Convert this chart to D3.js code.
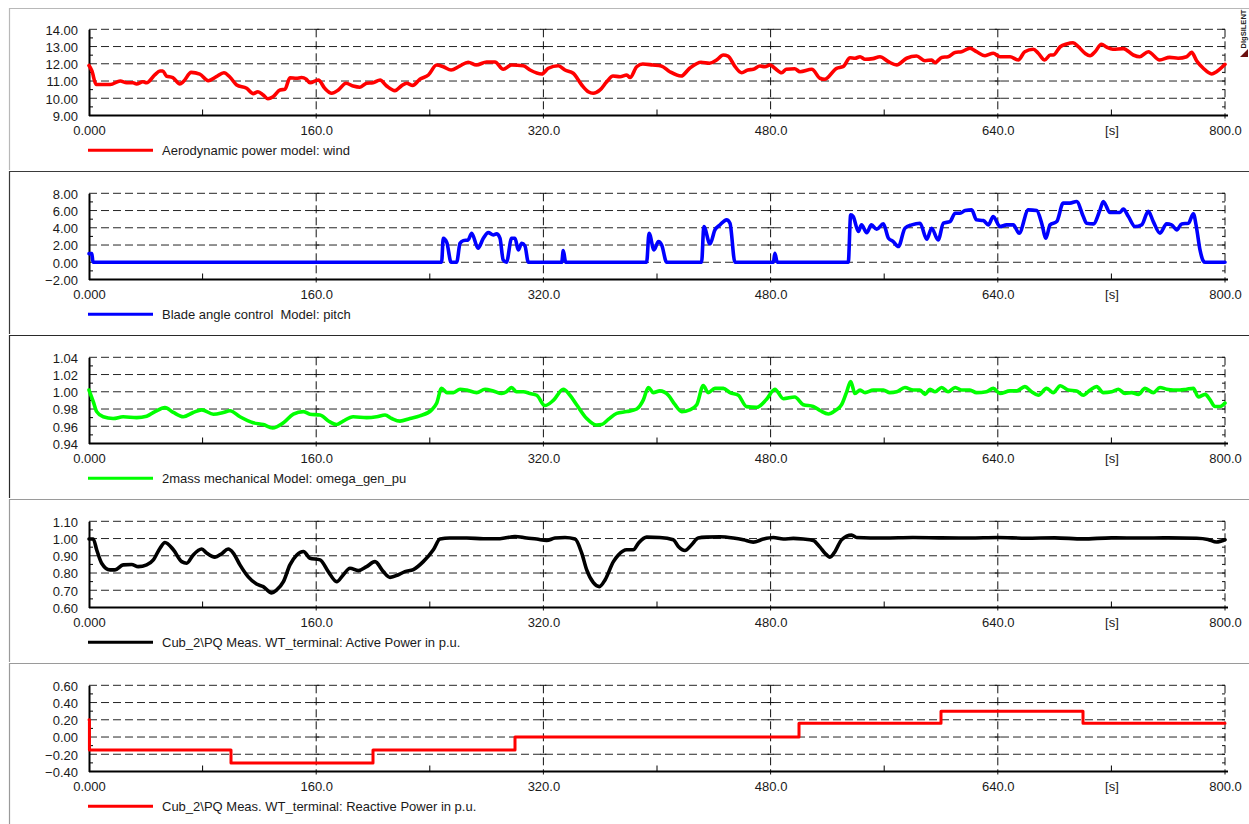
<!DOCTYPE html>
<html>
<head>
<meta charset="utf-8">
<script src="https://cdn.jsdelivr.net/npm/d3@7"></script>
<style>
  html, body { margin: 0; padding: 0; background: #fff; }
  svg { display: block; font-family: "Liberation Sans", Arial, Helvetica, sans-serif; }
</style>
</head>
<body>
<svg id="chart" width="1249" height="824"></svg>
<script>
// ---- time axis -------------------------------------------------------------
const xTickValues = [0, 160, 320, 480, 640, 720, 800];
const xTickLabels = ["0.000", "160.0", "320.0", "480.0", "640.0", "[s]", "800.0"];
const xGridValues = [160, 320, 480, 640, 800];
const xMinorValues = [80, 240, 400, 560, 720];

// ---- wind speed [m/s] ------------------------------------------------------
const windLabel = "Aerodynamic power model: wind";
const windTicks = [9, 10, 11, 12, 13, 14];
const wind = [[0,11.9],[2,11.6],[5,10.8],[15,10.8],[22,11.0],[26.5,10.9],[31,10.9],[33.5,10.83],[38,10.96],[40.6,10.9],[46.3,11.35],[50,11.58],[52,11.58],[54.5,11.29],[59,11.2],[64,10.83],[66.4,10.96],[72,11.5],[78,11.4],[84,11.02],[89.7,11.25],[95,11.48],[99,11.25],[104,10.77],[111,10.58],[115.7,10.27],[119,10.38],[122.7,10.19],[126,9.97],[129.6,10.09],[134.5,10.48],[138,10.52],[141.5,11.19],[146,11.16],[149.7,11.2],[153,11.1],[155.6,10.9],[161.5,11.06],[166,10.58],[170.9,10.29],[175.6,10.48],[181,10.87],[186,10.71],[190.8,10.64],[195.5,10.87],[200,10.9],[205,11.06],[209.6,10.71],[215.5,10.44],[220,10.72],[223.7,10.87],[228,10.75],[233,11.1],[239,11.35],[244.8,11.93],[249.5,11.83],[255,11.64],[261,11.87],[267,12.09],[272.8,11.93],[280,12.1],[285.9,12.1],[291.7,11.68],[297.6,11.93],[305.8,11.89],[310.6,11.64],[318.8,11.41],[323.5,11.74],[330.5,11.89],[335.2,11.64],[341,11.45],[347,10.77],[351.6,10.38],[355,10.29],[359.9,10.48],[364.6,10.96],[369,11.29],[374,11.25],[378.7,11.35],[381,11.2],[385.7,11.83],[390,11.99],[397,11.93],[403,11.87],[409,11.54],[417,11.29],[423,11.74],[431,12.09],[437,12.03],[442,12.22],[446.7,12.51],[450,12.45],[455,11.83],[459.6,11.48],[464,11.64],[467.8,11.68],[472.5,11.87],[476,11.83],[479.6,11.93],[483,11.74],[487.8,11.48],[491,11.68],[497,11.71],[500.7,11.54],[509,11.68],[514.8,11.16],[518,11.1],[526.5,11.74],[531,11.83],[536,12.35],[539.4,12.32],[543,12.41],[546.5,12.26],[552,12.3],[557,12.41],[563,12.12],[568.8,11.93],[575.8,12.32],[582.8,12.45],[588.7,12.18],[593.4,12.22],[595.8,12.06],[600.5,12.37],[605,12.41],[609.9,12.66],[614.5,12.7],[620.4,12.9],[625,12.7],[631,12.47],[636.8,12.61],[641.5,12.41],[648.6,12.41],[654.4,12.22],[659,12.7],[665,12.84],[668.5,12.61],[673,12.22],[677,12.51],[679,12.51],[684,12.99],[688.5,13.15],[693,13.22],[696.7,12.99],[701.4,12.61],[705,12.47],[708.5,12.7],[713,13.13],[716.7,12.96],[721,12.84],[728.4,12.88],[735.4,12.51],[740,12.41],[746,12.7],[754,12.22],[761,12.37],[767,12.32],[773,12.41],[776.5,12.66],[780,12.18],[784.7,11.74],[790.6,11.41],[794,11.54],[800,11.97]];

// ---- blade pitch angle [deg] -----------------------------------------------
const pitchLabel = "Blade angle control  Model: pitch";
const pitchTicks = [-2, 0, 2, 4, 6, 8];
const pitch = [[0,1.0],[2,1.0],[2.8,0],[248.3,0],[249.5,2.79],[252,2.28],[255,0],[258.9,0],[261.3,2.2],[263.6,2.51],[267,2.59],[269.5,3.37],[274,1.63],[277.7,2.79],[281.2,3.44],[284.7,3.17],[287,3.29],[289.4,2.79],[291.7,0.27],[294,0],[297.6,2.79],[300,2.79],[302.3,1.43],[304.7,2.2],[307,1.9],[309.4,0],[332.9,0],[334,1.35],[335.7,0],[392.7,0],[394.4,3.37],[397.9,1.43],[401,2.4],[403.3,2.01],[406.8,0],[431.4,0],[433,4.14],[437.3,2.13],[440.8,3.76],[444.4,4.34],[449,4.92],[451.4,4.53],[454.9,0],[482,0],[483,1.04],[484.7,0],[534.7,0],[536.4,5.5],[538.2,5.3],[541.8,3.56],[544,4.34],[547.7,3.44],[551,4.34],[554.7,3.83],[559.4,4.45],[563,2.79],[566.4,2.4],[570,1.82],[574.6,3.95],[579.4,4.34],[585.2,4.53],[590,2.67],[593.4,3.95],[598,2.59],[601.7,4.53],[606.3,4.72],[610,5.69],[613.4,5.69],[617,6.0],[621.6,6.08],[625,4.92],[629.8,4.84],[633.3,4.34],[636.8,5.3],[641.5,4.14],[646.2,4.34],[650.9,4.34],[655,3.37],[661.5,6.08],[667.4,6.0],[670.9,4.53],[673.9,2.79],[676.8,4.34],[681.5,4.72],[686.1,6.86],[690.8,6.86],[695.5,7.05],[700.2,5.3],[702.5,4.53],[707.3,4.45],[712,6.08],[714.3,7.05],[719,5.77],[726,5.77],[728.4,6.16],[732,5.3],[736.6,4.14],[741.3,4.34],[746,5.9],[749.5,4.72],[754.2,3.37],[758.9,4.45],[762.4,4.34],[766,3.76],[769.5,4.45],[774.2,4.53],[777.7,5.61],[780,3.95],[782.4,1.43],[784.7,0.16],[786,0],[800,0]];

// ---- generator speed [p.u.] ------------------------------------------------
const omegaLabel = "2mass mechanical Model: omega_gen_pu";
const omegaTicks = [0.94, 0.96, 0.98, 1.00, 1.02, 1.04];
const omega = [[0,1.002],[3,0.9886],[5.4,0.977],[10,0.971],[17,0.969],[24,0.971],[33.6,0.970],[40.6,0.9716],[46.5,0.977],[53.5,0.9816],[59.4,0.976],[66.4,0.971],[73.4,0.976],[79.4,0.979],[87.6,0.974],[94.6,0.976],[99.3,0.978],[106.3,0.971],[115.7,0.964],[122.7,0.962],[129.3,0.958],[136.9,0.964],[143.9,0.974],[151,0.977],[155.6,0.974],[162.7,0.973],[169.7,0.965],[174.4,0.962],[179,0.966],[186,0.971],[195.5,0.970],[202.6,0.971],[208.5,0.973],[213.2,0.969],[219,0.966],[226,0.969],[233,0.972],[241.3,0.979],[244.8,0.9867],[248.3,1.004],[252,0.999],[256.6,0.999],[261.3,1.003],[266,1.002],[273,0.999],[278.9,1.003],[284.7,1.001],[290.6,0.998],[294,1.0],[297.6,1.005],[301,1.0],[305.8,1.0],[310.6,0.998],[315.3,0.996],[321,0.984],[327,0.990],[334,1.003],[338.7,0.996],[343.4,0.985],[350.5,0.969],[357.5,0.9614],[361,0.962],[365.7,0.968],[371.6,0.975],[378.7,0.977],[385.7,0.980],[390.4,0.9906],[393.9,1.005],[397.4,0.999],[402,1.001],[408,0.996],[412.7,0.985],[417.4,0.977],[423,0.979],[428,0.985],[432.6,1.0073],[436,0.999],[440.8,1.004],[446.7,1.004],[451.4,0.999],[457.3,0.996],[463,0.9828],[470.2,0.982],[477,0.991],[483,1.003],[489,0.992],[497,0.994],[503,0.985],[510,0.983],[515,0.978],[520.7,0.9742],[525.4,0.978],[530,0.985],[533.6,1.0],[536.4,1.012],[539.4,0.998],[543,1.002],[546.5,0.999],[552.3,1.002],[559.4,1.002],[564,0.999],[568.8,1.0],[574.6,1.005],[580.5,1.002],[585.2,1.002],[588.7,0.997],[592.3,1.003],[595.8,1.0],[600.5,1.005],[605,1.0],[610,1.005],[614.5,1.002],[620.4,1.002],[625,0.999],[632,1.0],[636.8,1.004],[641.5,0.998],[648.6,1.001],[653.3,1.001],[659,1.006],[663.8,1.0],[668.5,0.996],[674.4,1.004],[679,0.999],[684,1.007],[689.6,1.002],[695.5,1.001],[700.2,0.996],[705,1.002],[709.6,1.006],[714.3,0.999],[720.2,1.0],[724.9,1.003],[729.6,0.998],[734.3,0.999],[739,0.997],[743.7,1.004],[749.5,0.999],[754.2,1.005],[758.9,1.003],[763.6,1.002],[768.3,1.002],[773,1.003],[777.7,1.004],[781.2,0.994],[786,0.997],[789.4,0.991],[792.9,0.983],[796.5,0.983],[800,0.987]];

// ---- active power at WT terminal [p.u.] ------------------------------------
const activeLabel = "Cub_2\\PQ Meas. WT_terminal: Active Power in p.u.";
const activeTicks = [0.6, 0.7, 0.8, 0.9, 1.0, 1.1];
const active = [[0,0.997],[3,0.997],[5.4,0.935],[8.9,0.857],[14.8,0.818],[18.3,0.818],[24.1,0.847],[30,0.849],[34.7,0.837],[40.6,0.847],[45.3,0.876],[50,0.944],[53.5,0.977],[59.4,0.935],[65.3,0.866],[68.8,0.857],[73.4,0.905],[79.4,0.939],[82.8,0.916],[88.7,0.892],[93.4,0.912],[98,0.939],[101.6,0.916],[106.3,0.847],[112,0.779],[118,0.736],[122.7,0.721],[128.6,0.685],[132,0.701],[136.9,0.75],[141.5,0.847],[146.3,0.905],[151,0.925],[155.6,0.886],[162.7,0.876],[168.5,0.808],[174.4,0.75],[179,0.789],[183.8,0.828],[189.7,0.814],[195.5,0.837],[201.4,0.866],[207.3,0.808],[212,0.775],[217.9,0.79],[222.5,0.808],[228.4,0.82],[235.4,0.866],[242.5,0.935],[247.2,0.997],[254,1.003],[266,1.003],[277.7,0.999],[289.4,0.999],[300,1.012],[308.2,1.003],[315.3,0.997],[322.3,0.989],[328.2,1.003],[335.2,1.006],[342.3,0.997],[347,0.915],[350.5,0.818],[355.2,0.744],[359.4,0.721],[363.4,0.76],[369.3,0.866],[372.8,0.905],[378.7,0.935],[383.3,0.935],[386.9,0.973],[392.7,1.008],[402,1.006],[411.5,0.993],[415,0.954],[419.7,0.931],[424.4,0.964],[429,1.003],[435,1.008],[444.4,1.01],[453.7,1.003],[460.8,0.993],[467.8,0.979],[474.9,0.997],[481.9,1.006],[489,0.997],[496,1.001],[503,0.997],[510,0.989],[514.8,0.95],[518.3,0.915],[521.8,0.892],[525.4,0.925],[530,0.993],[537,1.02],[540.6,1.006],[560,1.003],[580,1.006],[600,1.004],[620,1.003],[640,1.006],[660,1.002],[680,1.004],[700,0.998],[720,1.004],[740,1.003],[760,1.004],[780,1.002],[788,0.995],[794,0.98],[800,0.993]];

// ---- reactive power setpoint steps [p.u.] ----------------------------------
const reactiveLabel = "Cub_2\\PQ Meas. WT_terminal: Reactive Power in p.u.";
const reactiveTicks = [-0.4, -0.2, 0.0, 0.2, 0.4, 0.6];
const reactiveTimes = [0, 0.3, 100, 200, 300, 500, 600, 700, 800];
const reactiveValues = [0.2, -0.15, -0.3, -0.15, 0.0, 0.16, 0.3, 0.16, 0.16];
const reactive = reactiveTimes.map((t, i) => [t, reactiveValues[i]]);

// ---- panel definitions -----------------------------------------------------
const panels = [
  { data: wind,     ticks: windTicks,     color: "#ff0000", label: windLabel,     curve: d3.curveMonotoneX },
  { data: pitch,    ticks: pitchTicks,    color: "#0000ff", label: pitchLabel,    curve: d3.curveMonotoneX },
  { data: omega,    ticks: omegaTicks,    color: "#00ff00", label: omegaLabel,    curve: d3.curveMonotoneX },
  { data: active,   ticks: activeTicks,   color: "#000000", label: activeLabel,   curve: d3.curveMonotoneX },
  { data: reactive, ticks: reactiveTicks, color: "#ff0000", label: reactiveLabel, curve: d3.curveStepAfter }
];

const svg = d3.select("#chart");
const FONT = 13;
const plotLeft = 89, plotRight = 1225;
const plotH = 86.2;
const panelPitch = 164;
const firstTop = 29.3;
const frames = [[8, 170], [171, 334], [335, 498], [499, 662], [663, 830]];
const frameColors = ["#b8b8b8", "#3a3a3a", "#2a2a2a", "#9a9a9a", "#9a9a9a"];

const x = d3.scaleLinear().domain([0, 800]).range([plotLeft, plotRight]);

panels.forEach((p, i) => {
  const top = firstTop + i * panelPitch;
  const bottom = top + plotH;
  const g = svg.append("g");

  // frame
  const [fy0, fy1] = frames[i];
  g.append("line").attr("x1", 9.5).attr("x2", 1249).attr("y1", fy0 + 0.5).attr("y2", fy0 + 0.5)
    .attr("stroke", frameColors[i]).attr("stroke-width", 1.2);
  g.append("line").attr("x1", 9.5).attr("x2", 9.5).attr("y1", fy0).attr("y2", fy1)
    .attr("stroke", frameColors[i]).attr("stroke-width", 1.2);

  const yMin = p.ticks[0], yMax = p.ticks[p.ticks.length - 1];
  const y = d3.scaleLinear().domain([yMin, yMax]).range([bottom, top]);
  const step = p.ticks[1] - p.ticks[0];
  const minorY = p.ticks.slice(0, -1).map(v => v + step / 2);

  // horizontal dashed grid
  g.append("g").selectAll("line").data(p.ticks.slice(1)).join("line")
    .attr("x1", plotLeft).attr("x2", plotRight)
    .attr("y1", d => y(d)).attr("y2", d => y(d))
    .attr("stroke", "#262626").attr("stroke-width", 1).attr("stroke-dasharray", "8,4");

  // vertical dashed grid
  g.append("g").selectAll("line").data(xGridValues).join("line")
    .attr("x1", d => x(d)).attr("x2", d => x(d))
    .attr("y1", top).attr("y2", bottom + 3)
    .attr("stroke", "#111").attr("stroke-width", 1).attr("stroke-dasharray", "8,4");

  // small cross ticks on the vertical grid lines; the right edge also carries minor ticks
  const crossTicks = [];
  xGridValues.forEach(xv => {
    p.ticks.slice(1).forEach(v => crossTicks.push([xv, v]));
    if (xv === 800) minorY.forEach(v => crossTicks.push([xv, v]));
  });
  g.append("g").selectAll("line").data(crossTicks).join("line")
    .attr("x1", d => x(d[0]) - 3).attr("x2", d => d[0] === 800 ? x(d[0]) : x(d[0]) + 3)
    .attr("y1", d => y(d[1])).attr("y2", d => y(d[1]))
    .attr("stroke", "#111").attr("stroke-width", 1);

  // y axis
  const yAxis = d3.axisLeft(y).tickValues(p.ticks).tickFormat(d3.format(".2f"))
    .tickSize(0).tickPadding(11);
  const ya = g.append("g").attr("transform", `translate(${plotLeft},0)`).call(yAxis);
  ya.select(".domain").attr("stroke", "#000").attr("stroke-width", 2);
  ya.selectAll("text").attr("font-size", FONT).attr("fill", "#1a1a1a")
    .attr("font-family", "Liberation Sans, Arial, sans-serif").attr("dy", "0.38em");

  // minor ticks on y axis
  g.append("g").selectAll("line").data(minorY).join("line")
    .attr("x1", plotLeft).attr("x2", plotLeft + 4)
    .attr("y1", d => y(d)).attr("y2", d => y(d))
    .attr("stroke", "#000").attr("stroke-width", 1);

  // x axis
  const xAxis = d3.axisBottom(x).tickValues(xTickValues)
    .tickFormat((d, k) => xTickLabels[k]).tickSize(0).tickPadding(10);
  const xa = g.append("g").attr("transform", `translate(0,${bottom})`).call(xAxis);
  xa.select(".domain").attr("stroke", "#000").attr("stroke-width", 2)
    .attr("d", `M${plotLeft},0H${plotRight + 3}`);
  xa.selectAll("text").attr("font-size", FONT).attr("fill", "#1a1a1a")
    .attr("font-family", "Liberation Sans, Arial, sans-serif");

  // minor ticks on x axis
  g.append("g").selectAll("line").data(xMinorValues).join("line")
    .attr("x1", d => x(d)).attr("x2", d => x(d))
    .attr("y1", bottom).attr("y2", bottom - 6)
    .attr("stroke", "#000").attr("stroke-width", 1);

  // data curve
  const line = d3.line().x(d => x(d[0])).y(d => y(d[1])).curve(p.curve);
  g.append("path").datum(p.data)
    .attr("fill", "none").attr("stroke", p.color)
    .attr("stroke-width", i === 4 ? 3 : 3.6)
    .attr("stroke-linejoin", "round").attr("stroke-linecap", "round")
    .attr("d", line);

  // legend
  const ly = top + 121;
  g.append("line").attr("x1", 88).attr("x2", 153).attr("y1", ly).attr("y2", ly)
    .attr("stroke", p.color).attr("stroke-width", 3);
  g.append("text").attr("x", 162).attr("y", ly).attr("dy", "0.36em")
    .attr("font-size", FONT).attr("fill", "#1a1a1a")
    .style("white-space", "pre").attr("xml:space", "preserve")
    .text(p.label);
});

// product mark in the upper right corner
const mark = svg.append("g").attr("transform", "translate(1243.5,29) rotate(-90)");
mark.append("text").attr("x", 0).attr("y", 0).attr("dy", "0.35em")
  .attr("text-anchor", "middle").attr("font-size", 7.5).attr("font-weight", "bold")
  .attr("fill", "#222").text("DIgSILENT");
svg.append("path").attr("d", "M1240,57 L1248,49 L1248,57 Z").attr("fill", "#6b1010");
</script>
</body>
</html>
